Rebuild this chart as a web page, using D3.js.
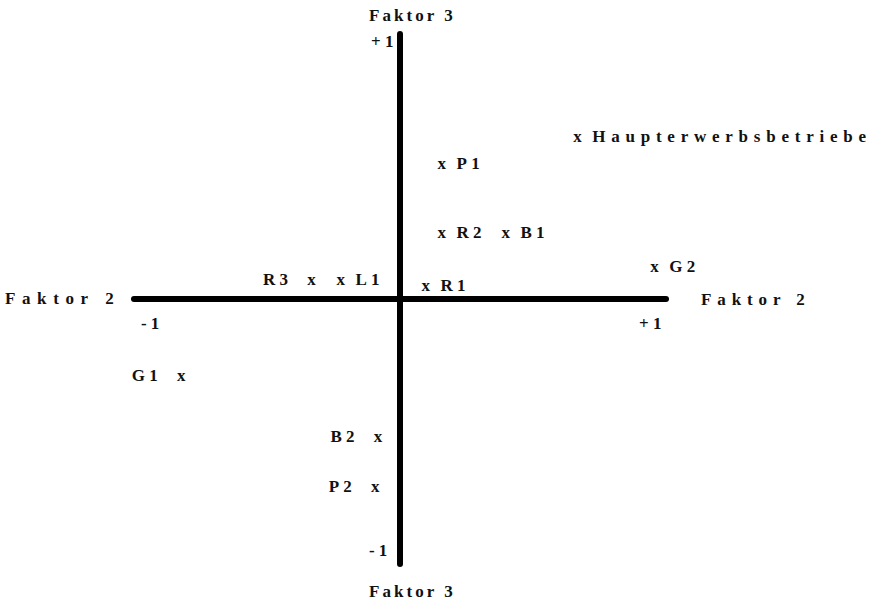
<!DOCTYPE html>
<html><head><meta charset="utf-8">
<script src="https://cdn.jsdelivr.net/npm/d3@7"></script>
<style>
body{margin:0;background:#fff;}
text{font-family:"Liberation Serif","DejaVu Serif",serif;font-weight:bold;fill:#111;}
</style></head>
<body><svg id="c" width="884" height="602"></svg>
<script>
// Factor loadings (Faktor 2 = horizontal, Faktor 3 = vertical)
const labels = ["Haupterwerbsbetriebe","P1","R2","B1","G2","R1","R3","L1","G1","B2","P2"];
const f2 = [0.67, 0.16, 0.16, 0.40, 0.96, 0.10, -0.33, -0.22, -0.82, -0.08, -0.09];
const f3 = [0.61, 0.51, 0.25, 0.25, 0.12, 0.05, 0.07, 0.07, -0.29, -0.52, -0.71];
const side = ["r","r","r","r","r","r","l","r","l","l","l"];
const tickLabelsX = ["-1","+1"];
const tickLabelsY = ["-1","+1"];
const axisName2 = "Faktor 2", axisName3 = "Faktor 3";

const svg = d3.select("#c");
const x = d3.scaleLinear().domain([-1,1]).range([134,666]);
const y = d3.scaleLinear().domain([-1,1]).range([564,34]);
const fs = 17, ls = 4.2;

// axes
svg.append("line").attr("x1",x(-1)).attr("x2",x(1)).attr("y1",y(0)).attr("y2",y(0))
  .attr("stroke","#000").attr("stroke-width",6).attr("stroke-linecap","round");
svg.append("line").attr("x1",x(0)).attr("x2",x(0)).attr("y1",y(1)).attr("y2",y(-1))
  .attr("stroke","#000").attr("stroke-width",6).attr("stroke-linecap","round");

function t(txt, px, py, anchor, w){
  const el = svg.append("text").attr("x",px).attr("y",py).attr("font-size",fs)
    .attr("letter-spacing",ls).attr("text-anchor",anchor||"start").text(txt);
  if(w){ el.attr("textLength",w).attr("lengthAdjust","spacing"); }
  return el;
}
// axis names
t(axisName3, 369, 21, "start", 88);
t(axisName3, 369, 597, "start", 88);
t(axisName2, 5, 304, "start", 113);
t(axisName2, 701, 305, "start", 108);
// tick labels
t(tickLabelsY[1], x(0)-29, 47);
t(tickLabelsY[0], x(0)-31, 556);
t(tickLabelsX[0], x(-1)+7, 329);
t(tickLabelsX[1], x(1)-27, 329);

// points
labels.forEach((lab,i)=>{
  const px = x(f2[i]), py = y(f3[i]) + 5;
  const w = lab.length > 2 ? lab.length*13.9 : null;
  if(side[i]==="r"){
    t("x", px-5, py);
    t(lab, px+14, py, "start", w);
  } else {
    t("x", px-5, py);
    t(lab, px-20, py, "end", w);
  }
});
</script></body></html>
